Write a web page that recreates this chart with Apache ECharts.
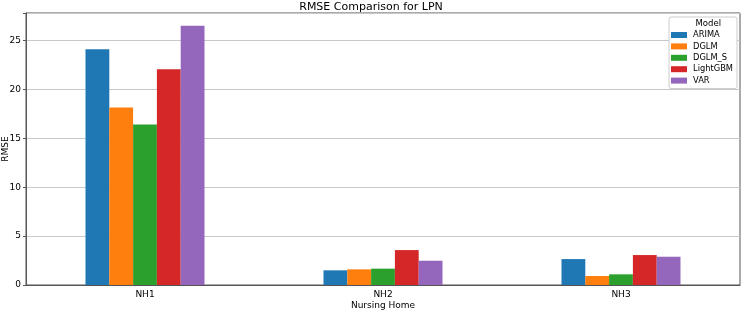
<!DOCTYPE html>
<html><head><meta charset="utf-8">
<script src="https://cdn.jsdelivr.net/npm/echarts@6/dist/echarts.min.js"></script>
<style>html,body{margin:0;padding:0;background:#fff}#c{width:742px;height:310px}</style>
</head><body><div id="c"></div>
<script>
const categories = ['NH1', 'NH2', 'NH3'];
const models = ['ARIMA', 'DGLM', 'DGLM_S', 'LightGBM', 'VAR'];
const arima = [24.1, 1.50, 2.65];
const dglm = [18.15, 1.60, 0.92];
const dglmS = [16.4, 1.67, 1.09];
const lightgbm = [22.05, 3.57, 3.06];
const varModel = [26.5, 2.48, 2.89];
const yTicks = [0, 5, 10, 15, 20, 25];
const colors = ['#1f77b4', '#ff7f0e', '#2ca02c', '#d62728', '#9467bd'];
const seriesValues = [arima, dglm, dglmS, lightgbm, varModel];
const font = 'DejaVu Sans';
const chart = echarts.init(document.getElementById('c'));
chart.setOption({
  animation: false,
  textStyle: {fontFamily: font},
  title: {text: 'RMSE Comparison for LPN', left: 'center', top: -3,
    textStyle: {fontFamily: font, fontSize: 11, fontWeight: 'normal', color: '#000'}},
  grid: {left: 26, right: 2, top: 13, bottom: 25, show: true, borderColor: '#555', borderWidth: 1,
    containLabel: false, outerBoundsMode: 'none'},
  legend: {orient: 'vertical', right: 5, top: 17, data: models,
    icon: 'rect', itemWidth: 16, itemHeight: 6, itemGap: 3.4, itemStyle: {borderWidth: 0},
    padding: [14, 4, 4, 2], borderColor: '#ccc', borderWidth: 1, borderRadius: 2, backgroundColor: '#fff',
    textStyle: {fontFamily: font, fontSize: 8.3, color: '#000', padding: [0, 0, 0, 1]}},
  graphic: [{type: 'text', right: 21, top: 19, style: {text: 'Model', font: '8.5px DejaVu Sans', fill: '#000'}, z: 100}],
  xAxis: {type: 'category', data: categories, name: 'Nursing Home', nameLocation: 'middle', nameGap: 16,
    nameMoveOverlap: false,
    nameTextStyle: {fontFamily: font, fontSize: 9, color: '#000'},
    axisLine: {lineStyle: {color: '#555'}},
    axisTick: {alignWithLabel: true, length: 3, lineStyle: {color: '#555'}},
    axisLabel: {fontFamily: font, fontSize: 9, color: '#000', margin: 5}},
  yAxis: {type: 'value', min: 0, max: 27.8, interval: 5, name: 'RMSE', nameLocation: 'middle', nameGap: 16,
    nameMoveOverlap: false,
    nameTextStyle: {fontFamily: font, fontSize: 9, color: '#000'},
    axisLine: {show: true, lineStyle: {color: '#555'}},
    axisTick: {show: true, length: 3, lineStyle: {color: '#555'}},
    axisLabel: {fontFamily: font, fontSize: 9, color: '#000', margin: 5,
      formatter: v => yTicks.includes(v) ? String(v) : ''},
    splitLine: {lineStyle: {color: '#c8c8c8', width: 1}}},
  series: models.map((m, i) => ({
    name: m, type: 'bar', data: seriesValues[i], barGap: '0%', barCategoryGap: '50%',
    itemStyle: {color: colors[i]}
  }))
});
</script></body></html>
